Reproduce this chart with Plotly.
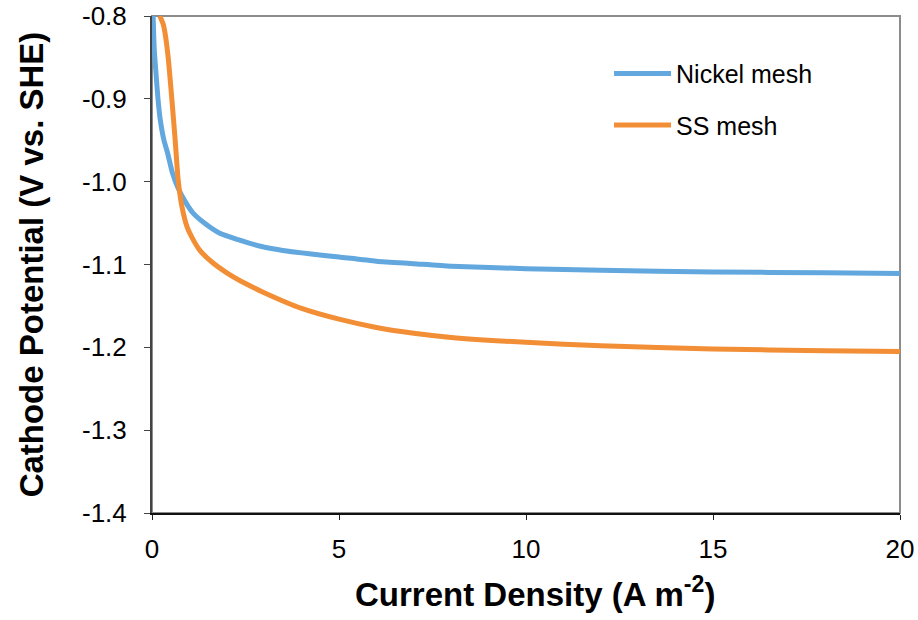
import plotly.graph_objects as go

# Cathode polarization data: current density (A m-2) vs potential (V vs. SHE)
nickel_j = [0.03, 0.06, 0.1, 0.16, 0.22, 0.32, 0.42, 0.55, 0.7, 0.9, 1.1, 1.4, 1.8,
            2.3, 2.9, 3.5, 4.2, 5, 6, 7, 8, 10, 12, 15, 18, 20]
nickel_v = [-0.80, -0.84, -0.865, -0.90, -0.925, -0.95, -0.966, -0.99, -1.008, -1.025,
            -1.038, -1.05, -1.062, -1.07, -1.078, -1.083, -1.087, -1.091, -1.096,
            -1.099, -1.102, -1.105, -1.107, -1.109, -1.110, -1.111]

ss_j = [0.21, 0.3, 0.35, 0.43, 0.53, 0.62, 0.7, 0.8, 0.94, 1.1, 1.28, 1.6, 2, 2.5, 3,
        4, 5, 6, 7, 8, 10, 12, 15, 18, 20]
ss_v = [-0.80, -0.81, -0.821, -0.849, -0.90, -0.95, -0.998, -1.03, -1.055, -1.07,
        -1.083, -1.097, -1.11, -1.123, -1.134, -1.153, -1.166, -1.176, -1.183, -1.188,
        -1.194, -1.198, -1.202, -1.204, -1.205]

series_names = ["Nickel mesh", "SS mesh"]
series_colors = ["#62a8de", "#f28e35"]

x_ticks = [0, 5, 10, 15, 20]
y_ticks = [-0.8, -0.9, -1.0, -1.1, -1.2, -1.3, -1.4]
y_tick_text = ["-0.8", "-0.9", "-1.0", "-1.1", "-1.2", "-1.3", "-1.4"]

FONT = "Liberation Sans, Arial, sans-serif"

fig = go.Figure()
for name, xs, ys, color, grp in [
    (series_names[0], nickel_j, nickel_v, series_colors[0], "a"),
    (series_names[1], ss_j, ss_v, series_colors[1], "b"),
]:
    fig.add_trace(go.Scatter(
        x=xs, y=ys, mode="lines", name=name, legendgroup=grp,
        line=dict(color=color, width=5, shape="spline", smoothing=0.6),
    ))

# light grey frame around the plotting area
fig.add_shape(type="rect", xref="paper", yref="paper", x0=0, y0=0, x1=1, y1=1,
              line=dict(color="#8c8c8c", width=2), layer="below")

# x-axis title placed as an annotation for precise spacing under the tick labels
fig.add_annotation(
    text="<b>Current Density (A m<sup>-2</sup>)</b>",
    xref="paper", yref="paper", x=0.512, y=-0.158,
    xanchor="center", yanchor="middle", showarrow=False,
    font=dict(size=33, family=FONT, color="#000000"),
)

fig.update_layout(
    width=918, height=620,
    margin=dict(l=152, r=18, t=16, b=107),
    paper_bgcolor="white", plot_bgcolor="white",
    font=dict(family=FONT, color="#000000"),
    showlegend=True,
    legend=dict(x=0.611, y=0.93, xanchor="left", yanchor="top",
                font=dict(size=25, family=FONT, color="#000000"),
                bgcolor="rgba(0,0,0,0)", tracegroupgap=16, itemwidth=57),
    xaxis=dict(
        range=[0, 20], tickvals=x_ticks, ticks="outside", ticklen=5,
        tickcolor="#222222", showline=True, linecolor="#111111", linewidth=2,
        showgrid=False, zeroline=False, automargin=False, ticklabelstandoff=7,
        tickfont=dict(size=26, family=FONT, color="#000000"),
    ),
    yaxis=dict(
        range=[-1.4, -0.8], tickvals=y_ticks, ticktext=y_tick_text,
        ticks="outside", ticklen=6, tickcolor="#444444",
        showline=True, linecolor="#444444", linewidth=2,
        showgrid=False, zeroline=False, automargin=False, ticklabelstandoff=12,
        tickfont=dict(size=26, family=FONT, color="#000000"),
        title=dict(text="<b>Cathode Potential (V vs. SHE)</b>",
                   font=dict(size=33, family=FONT, color="#000000"), standoff=28),
    ),
)

fig.write_html("out.html")
